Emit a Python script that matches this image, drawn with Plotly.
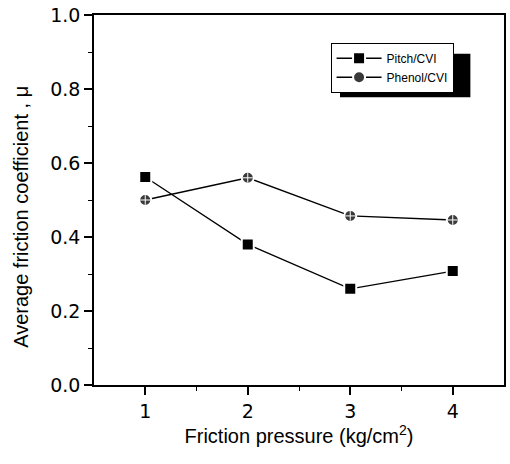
import plotly.graph_objects as go

pressure = [1, 2, 3, 4]
pitch_cvi = [0.562, 0.38, 0.26, 0.308]
phenol_cvi = [0.50, 0.56, 0.457, 0.446]

FONT = "Liberation Sans, Arial, sans-serif"
TICKFONT = "DejaVu Sans, sans-serif"

fig = go.Figure()
fig.add_trace(go.Scatter(
    x=pressure, y=pitch_cvi, name="Pitch/CVI", mode="lines+markers",
    line=dict(color="black", width=1.3),
    marker=dict(symbol="square", size=12, color="black", line=dict(color="white", width=2)),
))
fig.add_trace(go.Scatter(
    x=pressure, y=phenol_cvi, name="Phenol/CVI", mode="lines+markers",
    line=dict(color="black", width=1.3),
    marker=dict(symbol="circle", size=12, color="#3a3a3a", line=dict(color="white", width=2)),
))
fig.add_trace(go.Scatter(
    x=pressure, y=phenol_cvi, mode="markers", showlegend=False, hoverinfo="skip",
    marker=dict(symbol="cross-thin-open", size=7, color="white", line=dict(color="white", width=1)),
))

# legend drop shadow
fig.add_shape(type="rect", xref="paper", yref="paper",
              x0=0.600, x1=0.918, y0=0.778, y1=0.895,
              fillcolor="black", line=dict(width=0), layer="below")

fig.add_annotation(xref="paper", yref="paper", x=-0.18, y=0.455,
                   xanchor="center", yanchor="middle",
                   text="Average friction coefficient , \u03bc", textangle=-90,
                   showarrow=False, font=dict(size=20, family=FONT, color="black"))

fig.update_layout(
    width=510, height=464,
    margin=dict(l=94, r=4, t=15, b=79),
    paper_bgcolor="white", plot_bgcolor="white",
    font=dict(family=FONT, color="black"),
    legend=dict(x=0.577, y=0.925, xanchor="left", yanchor="top",
                bgcolor="white", bordercolor="black", borderwidth=1,
                font=dict(size=12, family=FONT), itemwidth=45,
                tracegroupgap=0),
    xaxis=dict(range=[0.5, 4.5], tickvals=pressure, ticktext=["1", "2", "3", "4"],
               ticks="outside", ticklen=8, tickwidth=1.5, tickcolor="black",
               showline=True, linecolor="black", linewidth=1.5, mirror=True,
               showgrid=False, zeroline=False,
               minor=dict(tickvals=[1.5, 2.5, 3.5], ticks="outside", ticklen=4, tickwidth=1.2, tickcolor="black"),
               tickfont=dict(size=19, family=TICKFONT),
               title=dict(text="Friction pressure (kg/cm<sup>2</sup>)", font=dict(size=20, family=FONT), standoff=6)),
    yaxis=dict(range=[0, 1.0], tickvals=[0, 0.2, 0.4, 0.6, 0.8, 1.0],
               ticktext=["0.0", "0.2", "0.4", "0.6", "0.8", "1.0"],
               ticks="outside", ticklen=8, tickwidth=1.5, tickcolor="black",
               showline=True, linecolor="black", linewidth=1.5, mirror=True,
               showgrid=False, zeroline=False,
               minor=dict(tickvals=[0.1, 0.3, 0.5, 0.7, 0.9], ticks="outside", ticklen=4, tickwidth=1.2, tickcolor="black"),
               tickfont=dict(size=19, family=TICKFONT)),
)

fig.write_html("out.html")
